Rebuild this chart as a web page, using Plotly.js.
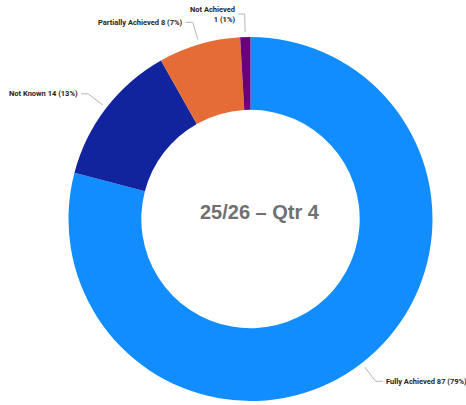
<!DOCTYPE html>
<html>
<head>
<meta charset="utf-8">
<script src="https://cdn.plot.ly/plotly-3.0.1.min.js"></script>
<style>html,body{margin:0;padding:0;background:#fff;}#chart{width:466px;height:405px;}</style>
</head>
<body>
<div id="chart"></div>
<script>
// ---- data ----
const categories = ['Fully Achieved', 'Not Known', 'Partially Achieved', 'Not Achieved'];
const counts = [87, 14, 8, 1];
const centerTitle = '25/26 \u2013 Qtr 4';

// ---- style / layout constants ----
const colors = ['#118DFF', '#12239E', '#E66C37', '#6B007B'];
const W = 466, H = 405;
const CX = 250.5, CY = 219, R = 182;
const HOLE = 0.6;

const total = counts.reduce((a, b) => a + b, 0);
const px = x => x / W;
const py = y => 1 - y / H;

const shapes = [];
const annotations = [];
let cum = 0;
counts.forEach((v, i) => {
  const mid = (cum + v / 2) / total * 2 * Math.PI; // clockwise from top
  cum += v;
  const s = Math.sin(mid), c = Math.cos(mid);
  const x0 = CX + (R + 5) * s, y0 = CY - (R + 5) * c;
  const x1 = CX + (R + 23) * s, y1 = CY - (R + 23) * c;
  const dir = s >= 0 ? 1 : -1;
  const x2 = x1 + dir * 7;
  const pct = Math.round(v / total * 100);
  const nearTop = Math.abs(s) < 0.1;
  const txt = categories[i] + (nearTop ? '<br>' : ' ') + v + ' (' + pct + '%)';
  const lineStyle = {color: '#b5b5b5', width: 1};
  shapes.push({type: 'line', xref: 'paper', yref: 'paper', x0: px(x0), y0: py(y0), x1: px(x1), y1: py(y1), line: lineStyle});
  shapes.push({type: 'line', xref: 'paper', yref: 'paper', x0: px(x1), y0: py(y1), x1: px(x2), y1: py(y1), line: lineStyle});
  annotations.push({
    xref: 'paper', yref: 'paper',
    x: px(x2 + dir * 1), y: py(y1),
    xanchor: dir > 0 ? 'left' : 'right', yanchor: 'middle',
    align: dir > 0 ? 'left' : 'right',
    text: txt, showarrow: false,
    font: {family: 'Roboto, Liberation Sans, sans-serif', size: 7.5, color: '#252525', weight: 700}
  });
});

annotations.push({
  xref: 'paper', yref: 'paper', x: px(260), y: py(212),
  xanchor: 'center', yanchor: 'middle', showarrow: false,
  text: centerTitle,
  font: {family: 'Liberation Sans, Arial, sans-serif', size: 20, color: '#707070', weight: 700}
});

const trace = {
  type: 'pie',
  labels: categories,
  values: counts,
  hole: HOLE,
  sort: false,
  direction: 'clockwise',
  rotation: 0,
  textinfo: 'none',
  hoverinfo: 'skip',
  marker: {colors: colors, line: {width: 0}},
  domain: {x: [px(CX - R), px(CX + R)], y: [py(CY + R), py(CY - R)]},
  showlegend: false
};

const layout = {
  width: W, height: H,
  margin: {l: 0, r: 0, t: 0, b: 0},
  paper_bgcolor: '#ffffff',
  plot_bgcolor: '#ffffff',
  showlegend: false,
  shapes: shapes,
  annotations: annotations
};

Plotly.newPlot('chart', [trace], layout, {displayModeBar: false, staticPlot: true});
</script>
</body>
</html>
